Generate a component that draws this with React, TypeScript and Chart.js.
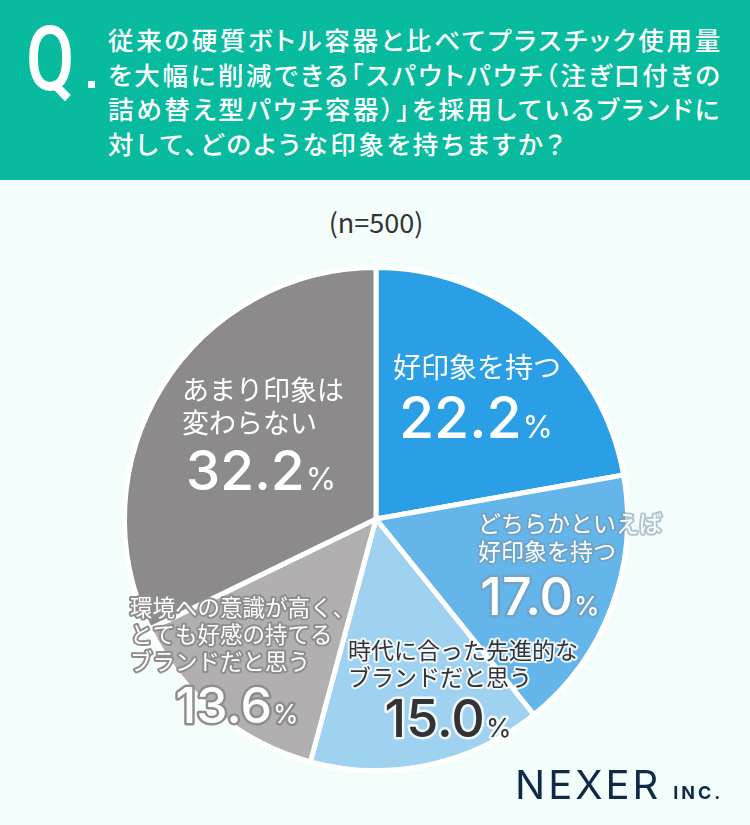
import React, { useEffect, useRef } from "react";
import { Chart, registerables } from "chart.js";

Chart.register(...registerables);

const categories = [
  "好印象を持つ",
  "どちらかといえば好印象を持つ",
  "時代に合った先進的なブランドだと思う",
  "環境への意識が高く、とても好感の持てるブランドだと思う",
  "あまり印象は変わらない",
];
const values = [22.2, 17.0, 15.0, 13.6, 32.2];
const labelLines = [
  ["好印象を持つ"],
  ["どちらかといえば", "好印象を持つ"],
  ["時代に合った先進的な", "ブランドだと思う"],
  ["環境への意識が高く、", "とても好感の持てる", "ブランドだと思う"],
  ["あまり印象は", "変わらない"],
];
const colors = ["#2a9fe6", "#64b6ea", "#9fd1f0", "#b1afb0", "#8c8a8b"];

const questionLines = [
  "従来の硬質ボトル容器と比べてプラスチック使用量",
  "を大幅に削減できる「スパウトパウチ（注ぎ口付きの",
  "詰め替え型パウチ容器）」を採用しているブランドに",
  "対して、どのような印象を持ちますか？",
];
const sampleNote = "(n=500)";

// label styling / placement relative to pie centre
const labelStyle = [
  { tx: 17, ty: [-152], fs: 28, nx: 100, ny: -81, ns: 57, ps: 31, fill: "#ffffff", stroke: null },
  { tx: 102, ty: [4, 32], fs: 23, nx: 164, ny: 96, ns: 52, ps: 26, fill: "#ffffff", stroke: "rgba(120,150,175,0.55)" },
  { tx: -28, ty: [131, 158], fs: 23, nx: 72, ny: 218, ns: 52, ps: 26, fill: "#333333", stroke: "rgba(255,255,255,0.85)" },
  { tx: -246, ty: [88, 115, 142], fs: 22.5, nx: -139, ny: 204, ns: 50, ps: 26, fill: "#ffffff", stroke: "#8f8d8e" },
  { tx: -194, ty: [-129, -96], fs: 27, nx: -115, ny: -29, ns: 55, ps: 31, fill: "#ffffff", stroke: null },
];

const JP = '"Noto Sans CJK JP", "Noto Sans", sans-serif';
const NUM = 'Inter, "Noto Sans", sans-serif';

const labelPlugin = {
  id: "sliceLabels",
  afterDatasetsDraw(chart: any) {
    const ctx = chart.ctx;
    const meta = chart.getDatasetMeta(0);
    const arc = meta.data[0];
    if (!arc) return;
    const cx = arc.x;
    const cy = arc.y;
    ctx.save();
    ctx.lineJoin = "round";
    values.forEach((v, i) => {
      const s = labelStyle[i];
      ctx.font = `400 ${s.fs}px ${JP}`;
      ctx.textAlign = "left";
      ctx.textBaseline = "middle";
      labelLines[i].forEach((line, k) => {
        const x = cx + s.tx;
        const y = cy + s.ty[k];
        if (s.stroke) {
          ctx.strokeStyle = s.stroke;
          ctx.lineWidth = 4;
          ctx.strokeText(line, x, y);
        }
        ctx.fillStyle = s.fill;
        ctx.fillText(line, x, y);
      });
      const num = v.toFixed(1);
      ctx.textBaseline = "alphabetic";
      ctx.font = `500 ${s.ns}px ${NUM}`;
      const wn = ctx.measureText(num).width;
      ctx.font = `400 ${s.ps}px ${NUM}`;
      const wp = ctx.measureText("%").width;
      const gap = 1;
      const total = wn + gap + wp;
      const x0 = cx + s.nx - total / 2;
      const y0 = cy + s.ny;
      ctx.textAlign = "left";
      const parts: [string, string, number][] = [
        [num, `500 ${s.ns}px ${NUM}`, x0],
        ["%", `400 ${s.ps}px ${NUM}`, x0 + wn + gap],
      ];
      parts.forEach(([t, font, x]) => {
        ctx.font = font;
        if (s.stroke) {
          ctx.strokeStyle = s.stroke;
          ctx.lineWidth = 5;
          ctx.strokeText(t, x, y0);
        }
        ctx.fillStyle = s.fill;
        ctx.fillText(t, x, y0);
      });
    });
    ctx.restore();
  },
};

export default function App() {
  const canvasRef = useRef<HTMLCanvasElement | null>(null);

  useEffect(() => {
    document.body.style.margin = "0";
    const canvas = canvasRef.current;
    if (!canvas) return;
    const chart = new Chart(canvas, {
      type: "pie",
      data: {
        labels: categories,
        datasets: [
          {
            data: values,
            backgroundColor: colors,
            borderColor: "#ffffff",
            borderWidth: 5,
            hoverOffset: 0,
          },
        ],
      },
      options: {
        responsive: false,
        animation: false,
        events: [],
        layout: { padding: { top: 265, bottom: 52, left: 121, right: 119 } },
        plugins: {
          legend: { display: false },
          tooltip: { enabled: false },
        },
      },
      plugins: [labelPlugin],
    });
    return () => chart.destroy();
  }, []);

  return (
    <div
      style={{
        position: "absolute",
        left: 0,
        top: 0,
        width: 750,
        height: 825,
        background: "#f3fdfb",
        overflow: "hidden",
      }}
    >
      <div
        style={{
          position: "absolute",
          left: 0,
          top: 0,
          width: 750,
          height: 180,
          background: "#08bb9e",
        }}
      >
        <div
          style={{
            position: "absolute",
            left: 26,
            top: 10,
            fontFamily: "Roboto, sans-serif",
            fontWeight: 500,
            fontSize: 90,
            color: "#ffffff",
            lineHeight: "100px",
            transform: "scaleX(0.78)",
            transformOrigin: "left top",
          }}
        >
          Q
        </div>
        <div
          style={{
            position: "absolute",
            left: 88,
            top: 81,
            width: 7,
            height: 7,
            background: "#ffffff",
          }}
        />
        <div
          style={{
            position: "absolute",
            left: 108,
            top: 22,
            fontFamily: JP,
            fontWeight: 500,
            fontSize: 25.5,
            lineHeight: "34.5px",
            letterSpacing: 2.7,
            fontFeatureSettings: '"palt"',
            color: "#ffffff",
            whiteSpace: "nowrap",
          }}
        >
          {questionLines.map((l, i) => (
            <div key={i}>{l}</div>
          ))}
        </div>
      </div>
      <div
        style={{
          position: "absolute",
          left: 0,
          width: 752,
          top: 203,
          textAlign: "center",
          fontFamily: JP,
          fontSize: 27,
          color: "#333333",
          lineHeight: "38px",
        }}
      >
        {sampleNote}
      </div>
      <canvas
        ref={canvasRef}
        width={750}
        height={825}
        style={{ position: "absolute", left: 0, top: 0, width: 750, height: 825 }}
      />
      <div
        style={{
          position: "absolute",
          left: 515,
          top: 757,
          fontFamily: "Inter, sans-serif",
          fontWeight: 400,
          fontSize: 40,
          letterSpacing: 3,
          color: "#0e2a47",
          whiteSpace: "nowrap",
          lineHeight: "56px",
        }}
      >
        NEXER
        <span style={{ fontSize: 18, fontWeight: 700, letterSpacing: 3, marginLeft: 12 }}>INC.</span>
      </div>
    </div>
  );
}
